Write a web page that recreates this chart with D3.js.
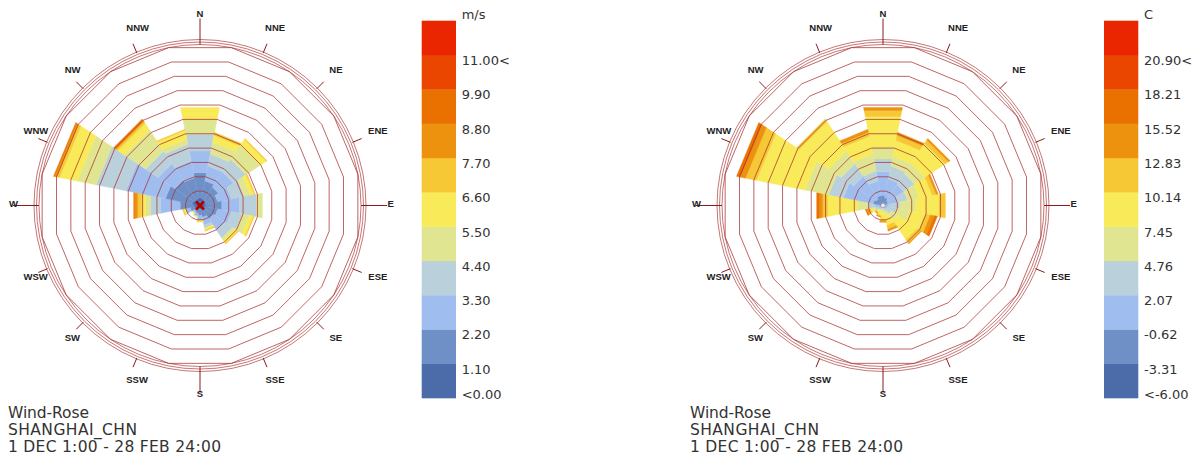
<!DOCTYPE html>
<html>
<head>
<meta charset="utf-8">
<script src="https://cdn.jsdelivr.net/npm/d3@7"></script>
<style>
  html, body { margin: 0; padding: 0; background: #fff; }
  svg { display: block; }
</style>
</head>
<body>
<script>
// Compass directions, clockwise from north
const directions = ["N","NNE","NE","ENE","E","ESE","SE","SSE","S","SSW","SW","WSW","W","WNW","NW","NNW"];

// Hours per colour bin (lowest bin first, from the centre outward), one row per direction
const speedHours = [
  [16,50,44,34,30,24],
  [14,36,30,24,24,14,6],
  [12,32,36,30,34,14,2],
  [10,26,28,26,12,8,2],
  [12,32,36,34,12],
  [10,26,28,22,14,8,2],
  [10,22,28,18,6,6,2],
  [8,16,16,6,0,4,2],
  [8,12,10,0,0,4],
  [6,10,6,0,0,2],
  [6,8,4,0,0,2],
  [8,12,10,0,0,4,2],
  [12,28,40,20,10,8,8,6,2],
  [16,54,80,60,38,36,6,4,2],
  [14,46,40,30,50,16,4,4,2],
  [14,42,34,34,10,18,2]
];

const tempHours = [
  [0,20,48,26,24,62,12,6],
  [0,16,38,26,20,32,10,6],
  [0,12,38,26,24,48,8,4],
  [0,10,20,20,24,26,8,4],
  [0,0,12,22,32,48,12],
  [0,0,10,18,28,30,10,8,6],
  [0,0,10,10,16,46,8,2],
  [0,0,6,6,8,20,8,4],
  [0,0,4,4,6,14,4,2],
  [0,0,4,4,4,8,2,2],
  [0,2,4,4,2,4,2,2],
  [0,4,6,6,4,6,4,4,2],
  [0,6,10,14,22,60,10,6,6],
  [0,20,60,30,48,98,22,10,8],
  [0,16,54,30,30,70,6],
  [0,20,30,20,34,36,8,6]
];

// Legend tick labels, bottom to top
const speedTicks = ["<0.00","1.10","2.20","3.30","4.40","5.50","6.60","7.70","8.80","9.90","11.00<"];
const tempTicks  = ["<-6.00","-3.31","-0.62","2.07","4.76","7.45","10.14","12.83","15.52","18.21","20.90<"];

// Colour bins, lowest first
const binColors = ["#4b6ba9","#6f8fc7","#9fbdee","#bad1dc","#e0e591","#f8ea58","#f7c835","#ed920f","#ea7100","#ea4600","#ea2600"];

// Caption lines and their drawn widths
const titleLines = ["Wind-Rose", "SHANGHAI_CHN", "1 DEC 1:00 - 28 FEB 24:00"];
const titleWidths = [81, 129, 213];

const ringHours = 29;     // hours per frequency ring
const ringCount = 11;

const W = 1200, H = 459;
const svg = d3.select("body").append("svg").attr("width", W).attr("height", H);

const ringStep = 14.35;
const rScale = d3.scaleLinear().domain([0, ringHours * ringCount]).range([0, ringStep * ringCount]);
const sectorHalf = Math.PI / 16;            // half of 22.5 degrees
const secK = 1 / Math.cos(sectorHalf);      // apothem -> vertex distance

function pt(cx, cy, r, ang) {
  return [cx + r * Math.sin(ang), cy - r * Math.cos(ang)];
}

function drawRose(cx, cy, hours, centerMark) {
  const g = svg.append("g");

  // petals: stacked bands per direction
  const petals = g.append("g");
  directions.forEach((d, i) => {
    const ang = i * Math.PI / 8;
    let acc = 0;
    hours[i].forEach((h, b) => {
      if (h <= 0) return;
      const r0 = rScale(acc) * secK, r1 = rScale(acc + h) * secK;
      acc += h;
      const pts = [
        pt(cx, cy, r0, ang - sectorHalf), pt(cx, cy, r1, ang - sectorHalf),
        pt(cx, cy, r1, ang + sectorHalf), pt(cx, cy, r0, ang + sectorHalf)
      ];
      petals.append("path")
        .attr("d", d3.line()(pts) + "Z")
        .attr("fill", binColors[b])
        .attr("stroke", binColors[b])
        .attr("stroke-width", 0.4);
    });
  });

  // frequency rings (16-sided)
  const rings = g.append("g").attr("fill", "none").attr("stroke", "#a83232")
    .attr("stroke-width", 1).attr("stroke-opacity", 0.75);
  d3.range(1, ringCount + 1).forEach(k => {
    const rv = rScale(k * ringHours) * secK;
    const pts = d3.range(16).map(j => pt(cx, cy, rv, j * Math.PI / 8 + sectorHalf));
    rings.append("path").attr("d", d3.line()(pts) + "Z");
  });

  // compass circles
  [161, 163.5, 166].forEach(r => {
    g.append("circle").attr("cx", cx).attr("cy", cy).attr("r", r)
      .attr("fill", "none").attr("stroke", "#a83232").attr("stroke-width", 0.9).attr("stroke-opacity", 0.75);
  });

  // ticks and labels
  directions.forEach((d, i) => {
    const ang = i * Math.PI / 8;
    const major = i % 4 === 0;
    const a = pt(cx, cy, major ? 161 : 165, ang);
    const b = pt(cx, cy, major ? 187 : 175, ang);
    g.append("line").attr("x1", a[0]).attr("y1", a[1]).attr("x2", b[0]).attr("y2", b[1])
      .attr("stroke", "#8b1a1a").attr("stroke-width", 1);
    const l = pt(cx, cy, 190, ang);
    const t = g.append("text")
      .attr("y", l[1] - 2)
      .attr("dominant-baseline", "central")
      .attr("font-family", "Liberation Sans, Arial, sans-serif").attr("font-size", 9.5)
      .attr("font-weight", "bold")
      .attr("fill", "#222").text(d);
    const w = t.node().getComputedTextLength();
    const s = Math.sin(ang);
    let x;
    if (Math.abs(s) < 1e-6) x = l[0] - w / 2;
    else if (s < 0) x = l[0] - 1;
    else x = l[0] - 0.38 * w;
    t.attr("x", x);
  });

  if (centerMark === "x") {
    const s = 4;
    g.append("path").attr("d", `M${cx - s},${cy - s}L${cx + s},${cy + s}M${cx - s},${cy + s}L${cx + s},${cy - s}`)
      .attr("stroke", "#b00000").attr("stroke-width", 2.6);
  } else {
    g.append("circle").attr("cx", cx).attr("cy", cy).attr("r", 2.2)
      .attr("fill", "#eee").attr("stroke", "#999").attr("stroke-width", 0.8);
  }
}

function drawLegend(x, unit, ticks) {
  const top = 20.7, boxH = 34.3, boxW = 34.3;
  const g = svg.append("g");
  const n = binColors.length;
  const yScale = d3.scaleLinear().domain([n, 0]).range([top, top + n * boxH]);
  d3.range(n).forEach(b => {
    g.append("rect").attr("x", x).attr("y", yScale(b + 1)).attr("width", boxW).attr("height", boxH + 0.3)
      .attr("fill", binColors[b]);
  });
  g.append("text").attr("x", x + 40).attr("y", 19).attr("font-family", "DejaVu Sans, Verdana, sans-serif")
    .attr("font-size", 13).attr("fill", "#333").text(unit);
  ticks.forEach((t, b) => {
    const y = b === 0 ? yScale(0) + 1 : yScale(b) + 10;
    g.append("text").attr("x", x + 40).attr("y", y).attr("font-family", "DejaVu Sans, Verdana, sans-serif")
      .attr("font-size", 13).attr("fill", "#333").text(t);
  });
}

function drawTitle(x) {
  titleLines.forEach((t, i) => {
    svg.append("text").attr("x", x).attr("y", 418 + i * 17)
      .attr("font-family", "DejaVu Sans, Verdana, sans-serif").attr("font-size", 15.5)
      .attr("textLength", titleWidths[i]).attr("lengthAdjust", "spacing")
      .attr("fill", "#333").text(t);
  });
}

drawRose(200, 205.5, speedHours, "x");
drawRose(883, 205.5, tempHours, "o");
drawLegend(421.7, "m/s", speedTicks);
drawLegend(1104, "C", tempTicks);
drawTitle(8);
drawTitle(690);
</script>
</body>
</html>
